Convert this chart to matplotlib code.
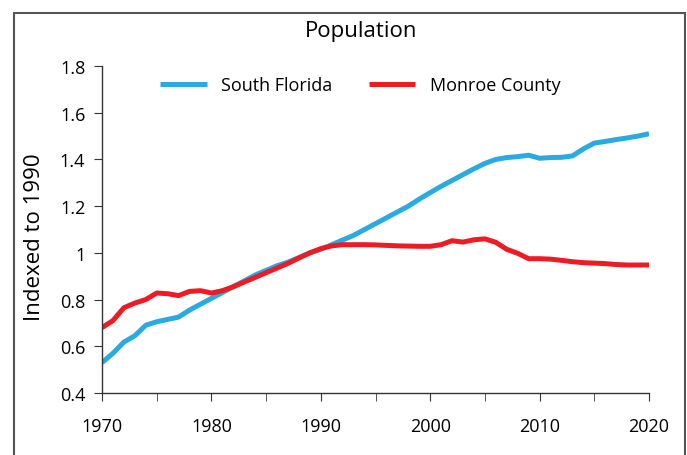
import matplotlib
matplotlib.use("Agg")
import matplotlib.pyplot as plt
from matplotlib.patches import Rectangle
from matplotlib.ticker import FuncFormatter, MultipleLocator

plt.rcParams['font.family'] = ['Open Sans', 'DejaVu Sans']

years = [1970, 1971, 1972, 1973, 1974, 1975, 1976, 1977, 1978, 1979,
         1980, 1981, 1982, 1983, 1984, 1985, 1986, 1987, 1988, 1989,
         1990, 1991, 1992, 1993, 1994, 1995, 1996, 1997, 1998, 1999,
         2000, 2001, 2002, 2003, 2004, 2005, 2006, 2007, 2008, 2009,
         2010, 2011, 2012, 2013, 2014, 2015, 2016, 2017, 2018, 2019, 2020]

south_florida = [0.530, 0.570, 0.618, 0.645, 0.690, 0.705, 0.715, 0.725, 0.755, 0.780,
                 0.805, 0.830, 0.855, 0.880, 0.905, 0.925, 0.945, 0.960, 0.980, 1.000,
                 1.015, 1.035, 1.055, 1.075, 1.100, 1.125, 1.150, 1.175, 1.200, 1.230,
                 1.258, 1.285, 1.310, 1.335, 1.360, 1.383, 1.400, 1.408, 1.412, 1.418,
                 1.405, 1.408, 1.409, 1.415, 1.445, 1.470, 1.477, 1.485, 1.492, 1.500, 1.510]

monroe = [0.680, 0.710, 0.765, 0.785, 0.800, 0.828, 0.825, 0.817, 0.835, 0.838,
          0.828, 0.838, 0.855, 0.875, 0.895, 0.915, 0.935, 0.955, 0.978, 1.000,
          1.018, 1.030, 1.035, 1.035, 1.035, 1.034, 1.032, 1.030, 1.029, 1.028,
          1.028, 1.035, 1.052, 1.046, 1.056, 1.060, 1.045, 1.015, 0.998, 0.975,
          0.975, 0.973, 0.968, 0.962, 0.958, 0.956, 0.954, 0.950, 0.948, 0.948, 0.948]

fig = plt.figure(figsize=(6.87, 4.56), dpi=100)
ax = fig.add_axes([102 / 687, 62 / 456, 547 / 687, 327 / 456])

ax.plot(years, south_florida, color='#29ABE2', lw=3.6, label='South Florida', solid_capstyle='butt')
ax.plot(years, monroe, color='#ED1C24', lw=3.6, label='Monroe County', solid_capstyle='butt')

ax.set_xlim(1970, 2020)
ax.set_ylim(0.4, 1.8)
ax.set_xticks([1970, 1980, 1990, 2000, 2010, 2020])
ax.xaxis.set_minor_locator(MultipleLocator(5))
ax.yaxis.set_major_locator(MultipleLocator(0.2))
ax.yaxis.set_major_formatter(FuncFormatter(lambda v, p: f'{v:g}'))

for s in ['top', 'right']:
    ax.spines[s].set_visible(False)
for s in ['left', 'bottom']:
    ax.spines[s].set_color('#333333')
    ax.spines[s].set_linewidth(1)

ax.tick_params(axis='both', which='both', direction='out', color='#333333', labelsize=13)
ax.tick_params(axis='x', which='major', length=6, pad=11)
ax.tick_params(axis='x', which='minor', length=6)
ax.tick_params(axis='y', length=6, pad=6)

fig.text(361 / 687, 1 - 32 / 456, 'Population', fontsize=16, ha='center', va='center')
ax.set_ylabel('Indexed to 1990', fontsize=16)
ax.yaxis.set_label_coords(-0.104, 0.48)

ax.legend(loc='upper center', bbox_to_anchor=(0.472, 1.018), ncol=2, frameon=False,
          fontsize=13, handlelength=2.6, columnspacing=2.0, handletextpad=0.8)

border = Rectangle((14 / 687, -0.1), 671 / 687, 1.1 - 14 / 456, transform=fig.transFigure,
                   fill=False, edgecolor='#555555', lw=1.5, clip_on=False)
fig.patches.append(border)

fig.savefig('out.png', dpi=100)
